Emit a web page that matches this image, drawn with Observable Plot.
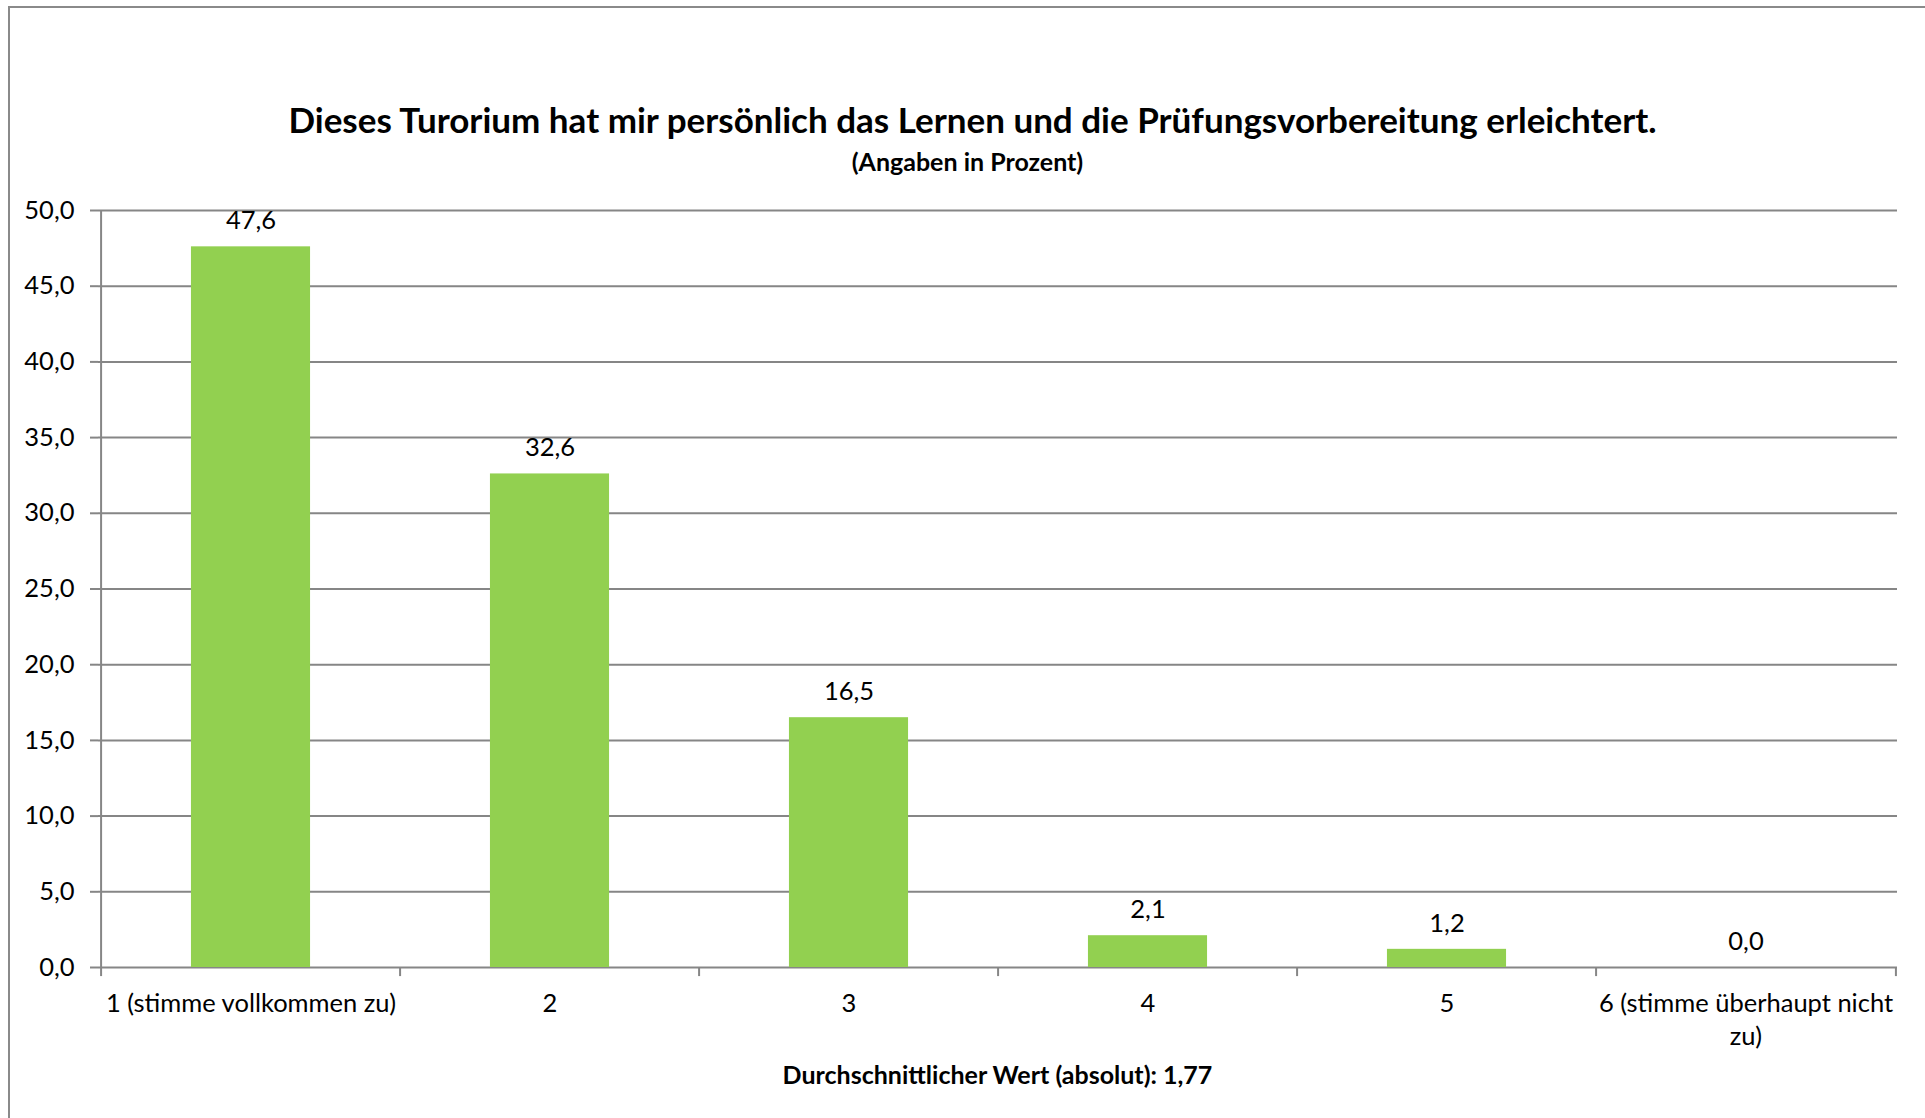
<!DOCTYPE html>
<html>
<head>
<meta charset="utf-8">
<script src="https://cdn.jsdelivr.net/npm/d3@7"></script>
<script src="https://cdn.jsdelivr.net/npm/@observablehq/plot@0.6"></script>
<style>
  html, body { margin: 0; padding: 0; background: #fff; overflow: hidden; }
  #wrap { position: relative; width: 1925px; height: 1118px; font-family: Lato, "Open Sans", sans-serif; color: #000; }
  #frame { position: absolute; left: 8px; top: 6px; width: 2000px; height: 2000px; border-left: 2px solid #8a8a8a; border-top: 2px solid #8a8a8a; }
  #title { position: absolute; left: 0; width: 1945px; top: 98px; text-align: center; font-weight: 700; font-size: 35px; line-height: 42px; }
  #subtitle { position: absolute; left: 0; width: 1935px; top: 146px; text-align: center; font-weight: 700; font-size: 25px; line-height: 30px; }
  #chart { position: absolute; left: 0; top: 180px; }
  #caption { position: absolute; left: 0; width: 1995px; top: 1059px; text-align: center; font-weight: 700; font-size: 25px; line-height: 30px; }
</style>
</head>
<body>
<div id="wrap">
  <div id="frame"></div>
  <div id="title">Dieses Turorium hat mir persönlich das Lernen und die Prüfungsvorbereitung erleichtert.</div>
  <div id="subtitle">(Angaben in Prozent)</div>
  <div id="chart"></div>
  <div id="caption">Durchschnittlicher Wert (absolut): 1,77</div>
</div>
<script>
const categories = ["1 (stimme vollkommen zu)", "2", "3", "4", "5", "6 (stimme überhaupt nicht zu)"];
const values = [47.6, 32.6, 16.5, 2.1, 1.2, 0.0];
const tickLabels = ["1 (stimme vollkommen zu)", "2", "3", "4", "5", "6 (stimme überhaupt nicht\nzu)"];
const yTicks = [0, 5, 10, 15, 20, 25, 30, 35, 40, 45, 50];

const data = categories.map((c, i) => ({category: c, value: values[i]}));
const fmt = v => v.toFixed(1).replace(".", ",");
const labelOf = new Map(categories.map((c, i) => [c, tickLabels[i]]));

const W = 1925, H = 900, mL = 98, mR = 28, mT = 30, mB = 113;
const bw = (W - mL - mR) / categories.length;
const grid = "#868686";
const fs = 25.5;

const chart = Plot.plot({
  width: W,
  height: H,
  marginLeft: mL,
  marginRight: mR,
  marginTop: mT,
  marginBottom: mB,
  style: {fontFamily: "Lato, 'Open Sans', sans-serif", fontSize: fs + "px", color: "#000", background: "transparent", overflow: "visible"},
  x: {domain: categories, padding: 0},
  y: {domain: [0, 50]},
  marks: [
    Plot.ruleY(yTicks, {stroke: grid, strokeWidth: 2}),
    Plot.barY(data, {x: "category", y: "value", fill: "#92d050", insetLeft: bw * 0.3, insetRight: bw * 0.3}),
    // y axis line at the left edge of the first band
    Plot.ruleX([categories[0]], {x: d => d, y1: 0, y2: 50, dx: -bw / 2, stroke: grid, strokeWidth: 2}),
    // x tick marks at band boundaries
    Plot.ruleX(categories, {x: d => d, y1: 0, y2: -0.6, dx: -bw / 2, stroke: grid, strokeWidth: 2}),
    Plot.ruleX([categories[categories.length - 1]], {x: d => d, y1: 0, y2: -0.6, dx: bw / 2, stroke: grid, strokeWidth: 2}),
    Plot.axisY({ticks: yTicks, tickSize: 8, tickPadding: 16, tickFormat: fmt, stroke: grid, strokeWidth: 2, fill: "#000", fontSize: fs, label: null}),
    Plot.axisX({tickSize: 0, tickPadding: 21, tickFormat: d => labelOf.get(d), fill: "#000", fontSize: fs, lineHeight: 1.3, label: null}),
    Plot.text(data, {x: "category", y: "value", text: d => fmt(d.value), dy: -26, fill: "#000", fontSize: fs})
  ]
});
document.getElementById("chart").appendChild(chart);
</script>
</body>
</html>
